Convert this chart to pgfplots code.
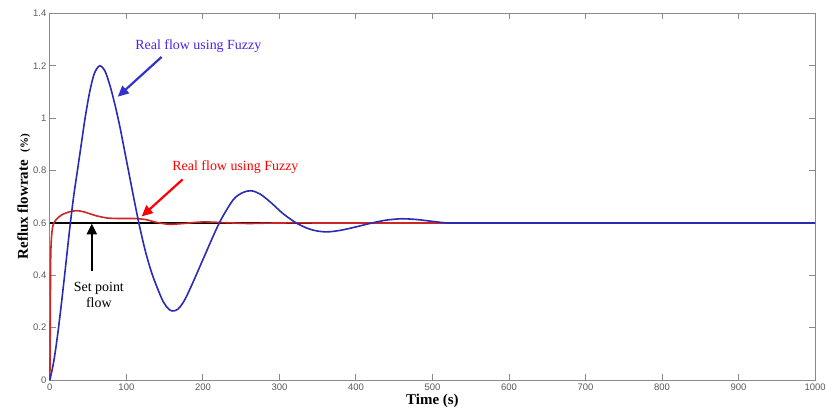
\documentclass[border=0pt]{standalone}
\usepackage{fontspec}
\setmainfont{Liberation Serif}
\newfontfamily\arial{Liberation Sans}
\usepackage{pgfplots}
\pgfplotsset{compat=1.18}
\usetikzlibrary{arrows.meta}
\definecolor{Frame}{HTML}{8A8A8A}
\definecolor{TickTxt}{HTML}{5A5A5A}
\definecolor{BlueLine}{HTML}{2A2AB4}
\definecolor{RedLine}{HTML}{CC2626}
\definecolor{BlueTxt}{HTML}{4A22E6}
\definecolor{BlueArr}{HTML}{3232CC}
\begin{document}
\begin{tikzpicture}
\begin{axis}[scale only axis,width=767pt,height=367.5pt,
  xmin=0,xmax=1000,ymin=0,ymax=1.4,
  xtick={0,100,...,1000},ytick={0,0.2,...,1.4},
  tick align=inside,major tick length=6pt,
  axis line style={Frame,line width=0.9pt},tick style={Frame,line width=0.9pt},
  tick label style={font=\arial\fontsize{9.5}{11}\selectfont,text=TickTxt},
  /pgf/number format/assume math mode=true,
  /pgf/number format/1000 sep={},
  yticklabel style={/pgf/number format/fixed},
  xlabel={\bfseries Time (s)},
  ylabel={\bfseries Reflux flowrate\ \ {\fontsize{11}{12}\selectfont(\%)}},
  label style={font=\fontsize{15}{17}\selectfont},
  xlabel style={yshift=3pt},ylabel style={yshift=-4pt},
  clip=false]
\addplot[black,line width=1.3pt] coordinates {(0,0.6) (1000,0.6)};
\addplot[RedLine,line width=1.6pt,smooth] coordinates {(0,0) (0.5,0.2) (1,0.45) (2,0.54) (4,0.59) (8,0.612) (15,0.63) (25,0.642) (35,0.647) (45,0.642) (60,0.628) (75,0.619) (90,0.617) (110,0.617) (125,0.613) (140,0.602) (156,0.595) (175,0.598) (200,0.604) (230,0.601) (260,0.598) (300,0.6) (400,0.6) (1000,0.6)};
\addplot[BlueLine,line width=1.6pt,smooth] coordinates {(0,0) (5,0.07) (10,0.17) (15,0.29) (20,0.42) (26,0.58) (31,0.7) (36,0.8) (41,0.9) (46,1.0) (52,1.1) (58,1.17) (65,1.2) (72,1.18) (79,1.12) (86,1.04) (92,0.96) (98,0.87) (104,0.78) (110,0.69) (117,0.59) (125,0.49) (133,0.41) (140,0.355) (148,0.3) (155,0.272) (160,0.264) (167,0.27) (175,0.3) (185,0.36) (200,0.46) (215,0.56) (225,0.62) (240,0.69) (252,0.716) (263,0.723) (275,0.71) (290,0.675) (305,0.635) (322,0.6) (338,0.578) (350,0.569) (363,0.566) (380,0.572) (400,0.585) (421,0.6) (440,0.611) (460,0.616) (480,0.613) (500,0.606) (521,0.6) (560,0.6) (1000,0.6)};
\node[text=BlueTxt,font=\fontsize{14}{16}\selectfont] at (axis cs:194,1.276) {Real flow using Fuzzy};
\draw[BlueArr,line width=2.2pt,-{Triangle[length=11pt,width=10pt]}] (axis cs:146,1.234) -- (axis cs:88.7,1.082);
\node[text=red,font=\fontsize{14}{16}\selectfont] at (axis cs:242.5,0.815) {Real flow using Fuzzy};
\draw[red,line width=2.2pt,-{Triangle[length=11pt,width=10pt]}] (axis cs:173.4,0.766) -- (axis cs:120,0.625);
\node[black,font=\fontsize{14}{16}\selectfont,align=center] at (axis cs:64,0.324) {Set point\\flow};
\draw[black,line width=2.2pt,-{Triangle[length=11pt,width=10pt]}] (axis cs:54.8,0.415) -- (axis cs:54.8,0.598);
\coordinate (SW) at (rel axis cs:0,0);
\coordinate (NE) at (rel axis cs:1,1);
\end{axis}
\pgfresetboundingbox
\path[use as bounding box] ([shift={(-50pt,-35pt)}]SW) rectangle ([shift={(12pt,13.5pt)}]NE);
\end{tikzpicture}
\end{document}
